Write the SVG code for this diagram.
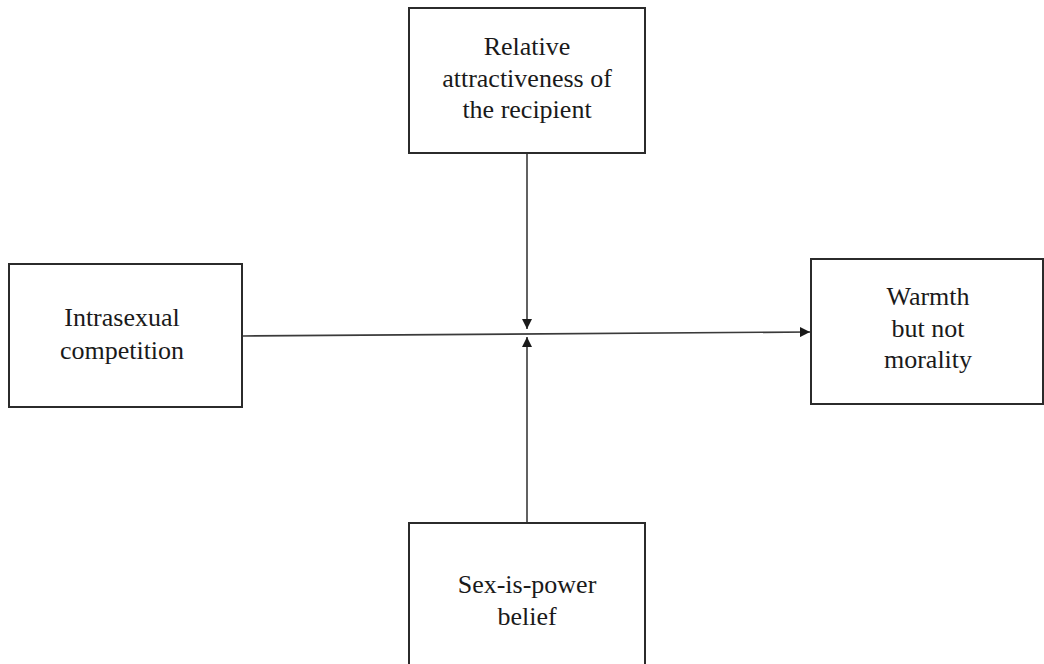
<svg xmlns="http://www.w3.org/2000/svg" width="1044" height="664" viewBox="0 0 1044 664">
<style>
.box{fill:#fff;stroke:#2b2b2b;stroke-width:2}
.lbl{font-family:"Liberation Serif","Times New Roman",serif;font-size:26px;fill:#1a1a1a;text-anchor:middle}
.con{stroke:#3a3a3a;stroke-width:1.6;fill:none}
</style>
<defs>
<marker id="ah" viewBox="0 0 10 10" refX="10" refY="5" markerWidth="10" markerHeight="10" markerUnits="userSpaceOnUse" orient="auto">
<path d="M0,0 L10,5 L0,10 Z" fill="#1a1a1a"/>
</marker>
</defs>
<rect width="1044" height="664" fill="#fff"/>
<g id="connectors">
<line class="con" x1="243" y1="336" x2="810" y2="332" marker-end="url(#ah)"/>
<line class="con" x1="527" y1="154" x2="527" y2="329" marker-end="url(#ah)"/>
<line class="con" x1="527" y1="522" x2="527" y2="337" marker-end="url(#ah)"/>
</g>
<g id="node-attractiveness">
<rect class="box" x="409" y="8" width="236" height="145"/>
<text class="lbl" x="527" y="55">Relative</text>
<text class="lbl" x="527" y="87">attractiveness of</text>
<text class="lbl" x="527" y="118">the recipient</text>
</g>
<g id="node-intrasexual">
<rect class="box" x="9" y="264" width="233" height="143"/>
<text class="lbl" x="122" y="326">Intrasexual</text>
<text class="lbl" x="122" y="359">competition</text>
</g>
<g id="node-warmth">
<rect class="box" x="811" y="259" width="232" height="145"/>
<text class="lbl" x="928" y="305">Warmth</text>
<text class="lbl" x="928" y="337">but not</text>
<text class="lbl" x="928" y="368">morality</text>
</g>
<g id="node-sexpower">
<rect class="box" x="409" y="523" width="236" height="160"/>
<text class="lbl" x="527" y="593">Sex-is-power</text>
<text class="lbl" x="527" y="625">belief</text>
</g>
</svg>
